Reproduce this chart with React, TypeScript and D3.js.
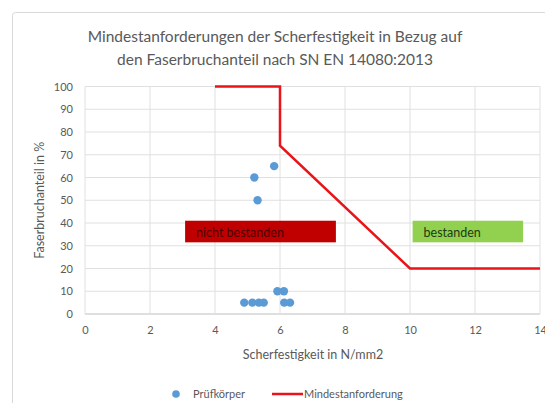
import React, { useEffect, useRef } from 'react';
import * as d3 from 'd3';

// Prüfkörper (Scherfestigkeit, Faserbruchanteil)
const pruefX = [5.82, 5.21, 5.31, 5.4, 5.92, 6.12, 4.9, 5.15, 5.35, 5.5, 6.13, 6.31];
const pruefY = [65, 60, 50, 39, 10, 10, 5, 5, 5, 5, 5, 5];

// Mindestanforderung
const minX = [4, 6, 6, 10, 14];
const minY = [100, 100, 74, 20, 20];

const xTicks = [0, 2, 4, 6, 8, 10, 12, 14];
const yTicks = [0, 10, 20, 30, 40, 50, 60, 70, 80, 90, 100];

const titleLines = [
  'Mindestanforderungen der Scherfestigkeit in Bezug auf',
  'den Faserbruchanteil nach SN EN 14080:2013',
];

const FONT = 'Lato, "Open Sans", sans-serif';

const App: React.FC = () => {
  const svgRef = useRef<SVGSVGElement | null>(null);

  useEffect(() => {
    if (!svgRef.current) return;
    const svg = d3.select(svgRef.current);
    svg.selectAll('*').remove();

    const x = d3.scaleLinear().domain([0, 14]).range([85, 540]);
    const y = d3.scaleLinear().domain([0, 100]).range([314, 86.5]);

    // chart border
    svg.append('rect')
      .attr('x', 12.5).attr('y', 12.5)
      .attr('width', 560).attr('height', 420)
      .attr('rx', 3)
      .attr('fill', '#fff')
      .attr('stroke', '#d9d9d9');

    // title
    svg.selectAll('.title')
      .data(titleLines)
      .enter()
      .append('text')
      .attr('x', 275)
      .attr('y', (d, i) => 42 + i * 23)
      .attr('text-anchor', 'middle')
      .attr('font-family', FONT)
      .attr('font-size', 15.5)
      .attr('fill', '#595959')
      .text(d => d);

    // grid
    const grid = svg.append('g');
    grid.selectAll('.gy')
      .data(yTicks)
      .enter()
      .append('line')
      .attr('x1', x(0)).attr('x2', x(14))
      .attr('y1', d => y(d)).attr('y2', d => y(d))
      .attr('stroke', d => (d === 0 ? '#bfbfbf' : '#e0e0e0'))
      .attr('stroke-width', 1);
    grid.selectAll('.gx')
      .data(xTicks)
      .enter()
      .append('line')
      .attr('x1', d => x(d)).attr('x2', d => x(d))
      .attr('y1', y(0)).attr('y2', y(100))
      .attr('stroke', '#e0e0e0')
      .attr('stroke-width', 1);

    // axis labels
    const yAxis = svg.append('g')
      .attr('transform', `translate(${x(0)},0)`)
      .call(d3.axisLeft(y).tickValues(yTicks).tickSize(0).tickPadding(12));
    yAxis.select('.domain').remove();
    yAxis.selectAll('text')
      .attr('font-family', FONT).attr('font-size', 11).attr('fill', '#595959');

    const xAxis = svg.append('g')
      .attr('transform', `translate(0,${y(0)})`)
      .call(d3.axisBottom(x).tickValues(xTicks).tickSize(0).tickPadding(12));
    xAxis.select('.domain').remove();
    xAxis.selectAll('text')
      .attr('font-family', FONT).attr('font-size', 11).attr('fill', '#595959');

    svg.append('text')
      .attr('x', 313).attr('y', 359)
      .attr('text-anchor', 'middle')
      .attr('font-family', FONT).attr('font-size', 12.5)
      .attr('fill', '#595959')
      .text('Scherfestigkeit in N/mm2');

    svg.append('text')
      .attr('transform', `translate(44,${(y(0) + y(100)) / 2}) rotate(-90)`)
      .attr('text-anchor', 'middle')
      .attr('font-family', FONT).attr('font-size', 12.5)
      .attr('fill', '#595959')
      .text('Faserbruchanteil in %');

    // Mindestanforderung line
    const line = d3.line<number>()
      .x((d, i) => x(minX[i]))
      .y(d => y(d));
    svg.append('path')
      .datum(minY)
      .attr('d', line)
      .attr('fill', 'none')
      .attr('stroke', '#e8141a')
      .attr('stroke-width', 2.5)
      .attr('stroke-linejoin', 'miter');

    // points
    svg.selectAll('.pt')
      .data(pruefX)
      .enter()
      .append('circle')
      .attr('cx', d => x(d))
      .attr('cy', (d, i) => y(pruefY[i]))
      .attr('r', 4.2)
      .attr('fill', '#5b9bd5');

    // annotation boxes
    svg.append('rect')
      .attr('x', x(3.08)).attr('y', y(41))
      .attr('width', x(7.72) - x(3.08)).attr('height', y(31.5) - y(41))
      .attr('fill', '#c00000');
    svg.append('text')
      .attr('x', x(3.08) + 11).attr('y', y(31.5) - 5.5)
      .attr('font-family', FONT).attr('font-size', 12.5)
      .attr('fill', '#4a0000')
      .text('nicht bestanden');

    svg.append('rect')
      .attr('x', x(10.08)).attr('y', y(41))
      .attr('width', x(13.48) - x(10.08)).attr('height', y(31.5) - y(41))
      .attr('fill', '#92d050');
    svg.append('text')
      .attr('x', x(10.08) + 11).attr('y', y(31.5) - 5.5)
      .attr('font-family', FONT).attr('font-size', 12.5)
      .attr('fill', '#1e3a10')
      .text('bestanden');

    // legend
    const lg = svg.append('g').attr('transform', 'translate(0,394)');
    lg.append('circle').attr('cx', 176).attr('cy', 0).attr('r', 3.8).attr('fill', '#5b9bd5');
    lg.append('text').attr('x', 193).attr('y', 4)
      .attr('font-family', FONT).attr('font-size', 11).attr('fill', '#595959')
      .text('Prüfkörper');
    lg.append('line').attr('x1', 272).attr('x2', 303).attr('y1', 0).attr('y2', 0)
      .attr('stroke', '#e8141a').attr('stroke-width', 2.5);
    lg.append('text').attr('x', 304).attr('y', 4)
      .attr('font-family', FONT).attr('font-size', 11).attr('fill', '#595959')
      .text('Mindestanforderung');
  }, []);

  return (
    <svg
      ref={svgRef}
      width={545}
      height={403}
      style={{ position: 'absolute', left: 0, top: 0, background: '#fff' }}
    />
  );
};

export default App;
